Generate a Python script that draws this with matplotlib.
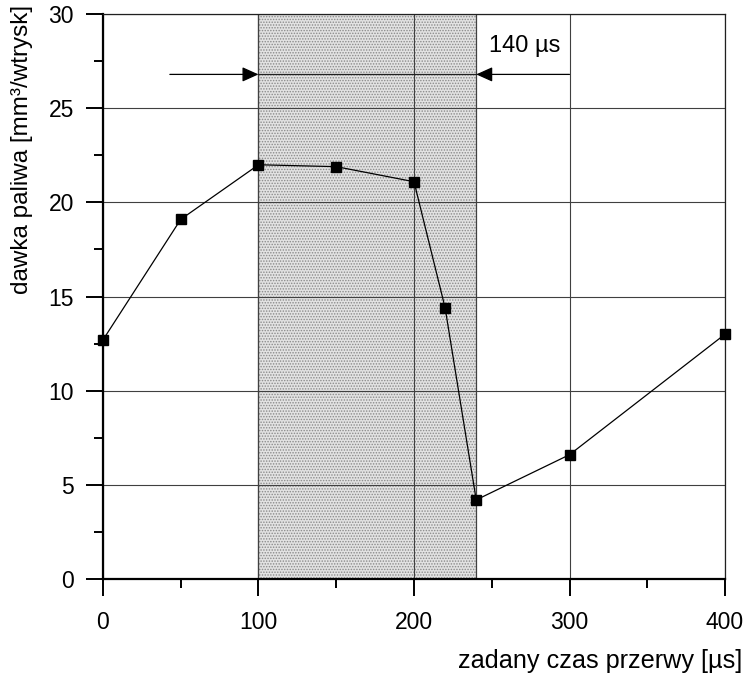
import matplotlib
matplotlib.use("Agg")
from matplotlib import pyplot as plt
from matplotlib.ticker import MultipleLocator

plt.rcParams["font.family"] = ["Liberation Sans", "DejaVu Sans"]
plt.rcParams["hatch.linewidth"] = 0.7

# data
czas_us = [0, 50, 100, 150, 200, 220, 240, 300, 400]
dawka = [12.7, 19.1, 22.0, 21.9, 21.1, 14.4, 4.2, 6.6, 13.0]
okno_us = (100, 240)
strzalka_y = 26.8
opis_okna = "140 µs"

fig = plt.figure(figsize=(7.49, 6.74), dpi=100)
ax = fig.add_axes([0.1375, 0.141, 0.8305, 0.838])

# shaded window
ax.axvspan(okno_us[0], okno_us[1], facecolor="#e2e2e2", edgecolor="#8a8a8a",
           hatch="......", linewidth=0, zorder=0)
ax.axvline(okno_us[0], color="#404040", lw=0.9, zorder=1)
ax.axvline(okno_us[1], color="#404040", lw=0.9, zorder=1)

ax.set_xlim(0, 400)
ax.set_ylim(0, 30)
ax.xaxis.set_major_locator(MultipleLocator(100))
ax.xaxis.set_minor_locator(MultipleLocator(50))
ax.yaxis.set_major_locator(MultipleLocator(5))
ax.yaxis.set_minor_locator(MultipleLocator(2.5))
ax.grid(True, which="major", color="#404040", lw=0.8, zorder=1)
ax.set_axisbelow(True)

ax.tick_params(which="major", direction="out", length=12, width=1.4,
               labelsize=16.5, color="black")
ax.tick_params(which="minor", direction="out", length=6.5, width=1.4)
ax.tick_params(axis="x", which="major", pad=11)
ax.tick_params(axis="y", which="major", pad=9)

for side in ["left", "bottom"]:
    ax.spines[side].set_linewidth(1.6)
for side in ["top", "right"]:
    ax.spines[side].set_linewidth(0.9)
    ax.spines[side].set_color("#202020")

ax.plot(czas_us, dawka, color="black", lw=0.9, marker="s", markersize=7,
        zorder=5, clip_on=False)

# arrows marking the window width
ax.plot([okno_us[0], okno_us[1]], [strzalka_y, strzalka_y], color="#202020",
        lw=0.9, zorder=3)
arrow_style = dict(arrowstyle="-|>,head_length=1.0,head_width=0.45",
                   color="black", lw=0.9, shrinkA=0, shrinkB=0)
ax.annotate("", xy=(okno_us[0], strzalka_y), xytext=(43, strzalka_y),
            arrowprops=arrow_style, zorder=4)
ax.annotate("", xy=(okno_us[1], strzalka_y), xytext=(300, strzalka_y),
            arrowprops=arrow_style, zorder=4)
ax.text(271, 28.3, opis_okna, fontsize=17, ha="center", va="center")

ax.set_ylabel("dawka paliwa [mm³/wtrysk]", fontsize=17.5)
ax.yaxis.set_label_coords(-0.112, 0.761)
ax.set_xlabel("zadany czas przerwy [µs]", fontsize=18.2)
ax.xaxis.set_label_coords(1.027, -0.124)
ax.xaxis.label.set_ha("right")

fig.savefig("out.png", dpi=100)
